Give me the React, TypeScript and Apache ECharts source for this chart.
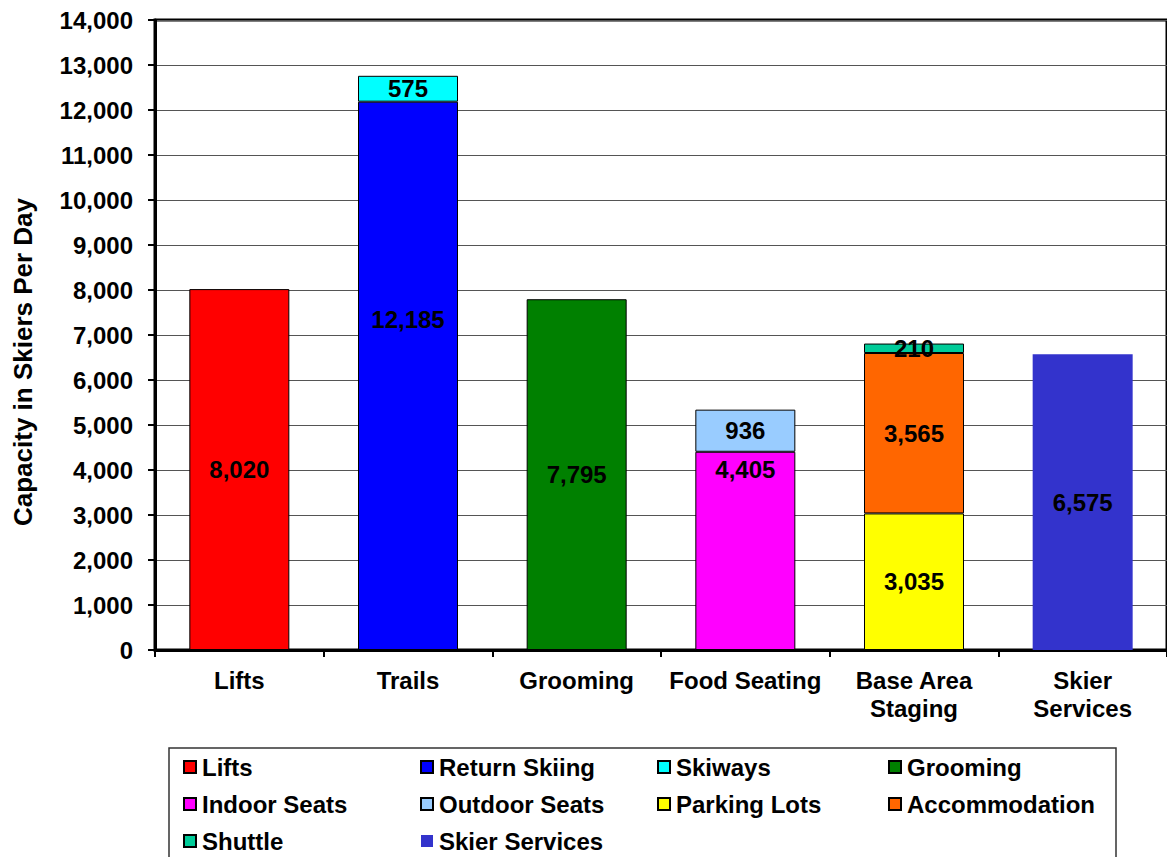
import React, { useEffect, useRef } from "react";
import * as echarts from "echarts";

const categories = ["Lifts", "Trails", "Grooming", "Food Seating", "Base Area\nStaging", "Skier\nServices"];
const seriesNames = [
  "Lifts", "Return Skiing", "Skiways", "Grooming", "Indoor Seats",
  "Outdoor Seats", "Parking Lots", "Accommodation", "Shuttle", "Skier Services",
];
const seriesValues = [8020, 12185, 575, 7795, 4405, 936, 3035, 3565, 210, 6575];
const seriesCategory = [0, 1, 1, 2, 3, 3, 4, 4, 4, 5];
const seriesColors = [
  "#FF0000", "#0000FF", "#00FFFF", "#008000", "#FF00FF",
  "#99CCFF", "#FFFF00", "#FF6600", "#00CC99", "#3333CC",
];
const labelOffsets: Record<string, number[]> = {
  "Return Skiing": [0, -56],
  "Indoor Seats": [0, -81],
};
const legendColumns = [
  ["Lifts", "Indoor Seats", "Shuttle"],
  ["Return Skiing", "Outdoor Seats", "Skier Services"],
  ["Skiways", "Parking Lots"],
  ["Grooming", "Accommodation"],
];
const legendLefts = [183, 420, 657, 888];
const yAxisTitle = "Capacity in Skiers Per Day";

const FONT = 'Arial, "Liberation Sans", sans-serif';
const fmt = (v: number) => v.toLocaleString("en-US");

export default function App() {
  const ref = useRef<HTMLDivElement>(null);
  useEffect(() => {
    if (!ref.current) return;
    const chart = echarts.init(ref.current, null, { renderer: "svg" });
    const series = seriesNames.map((name, i) => {
      const data: any[] = categories.map(() => null);
      data[seriesCategory[i]] = seriesValues[i];
      const noBorder = name === "Skier Services";
      return {
        name,
        type: "bar",
        stack: "total",
        barWidth: 100,
        data,
        itemStyle: {
          color: seriesColors[i],
          borderColor: "#000",
          borderWidth: noBorder ? 0 : 1,
        },
        label: {
          show: true,
          position: "inside",
          offset: labelOffsets[name] || [0, 0],
          color: "#000",
          fontFamily: FONT,
          fontWeight: "bold",
          fontSize: 24,
          formatter: (p: any) => fmt(p.value),
        },
      };
    });
    const legends = legendColumns.map((col, k) => ({
      orient: "vertical",
      left: legendLefts[k],
      top: 755,
      padding: 0,
      itemWidth: 12,
      itemHeight: 12,
      itemGap: 13,
      icon: "rect",
      data: col,
      selectedMode: false,
      textStyle: {
        fontFamily: FONT,
        fontWeight: "bold",
        fontSize: 24,
        lineHeight: 24,
        color: "#000",
        padding: [0, 0, 0, 1],
      },
    }));
    chart.setOption({
      animation: false,
      backgroundColor: "#fff",
      grid: {
        left: 155,
        top: 20,
        width: 1020,
        height: 630,
        show: true,
        borderColor: "#000",
        borderWidth: 3,
        backgroundColor: "transparent",
      },
      legend: legends,
      xAxis: {
        type: "category",
        data: categories,
        axisLine: { lineStyle: { color: "#000", width: 3 } },
        axisTick: { show: true, length: 7, lineStyle: { color: "#000", width: 2 } },
        axisLabel: {
          color: "#000",
          fontFamily: FONT,
          fontWeight: "bold",
          fontSize: 24,
          lineHeight: 28,
          margin: 16,
          interval: 0,
        },
      },
      yAxis: {
        type: "value",
        min: 0,
        max: 14000,
        interval: 1000,
        axisLine: { show: true, lineStyle: { color: "#000", width: 3 } },
        axisTick: { show: true, length: 7, lineStyle: { color: "#000", width: 2 } },
        axisLabel: {
          color: "#000",
          fontFamily: FONT,
          fontWeight: "bold",
          fontSize: 24,
          margin: 22,
          formatter: (v: number) => fmt(v),
        },
        splitLine: { show: true, lineStyle: { color: "#555", width: 1 } },
      },
      graphic: [
        {
          type: "rect",
          shape: { x: 169, y: 748, width: 947, height: 130 },
          style: { fill: "transparent", stroke: "#333", lineWidth: 1.5 },
          silent: true,
        },
        {
          type: "text",
          x: 23,
          y: 362,
          rotation: Math.PI / 2,
          style: {
            text: yAxisTitle,
            fill: "#000",
            font: `bold 26px ${FONT}`,
            align: "center",
            verticalAlign: "middle",
          },
          silent: true,
        },
      ],
      series,
    });
    return () => chart.dispose();
  }, []);
  return (
    <div
      ref={ref}
      style={{ position: "absolute", left: 0, top: 0, width: 1167, height: 857, background: "#fff" }}
    />
  );
}
